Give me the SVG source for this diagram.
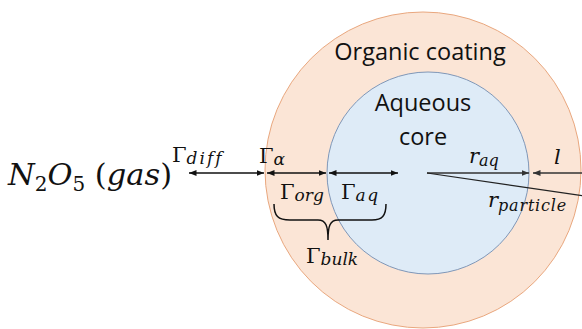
<svg xmlns="http://www.w3.org/2000/svg" width="582" height="329" viewBox="0 0 582 329">
<style>
.lbl{font-family:"Open Sans","Noto Sans",sans-serif;font-size:23.5px;fill:#111;}
.m{font-family:"DejaVu Serif","Liberation Serif",serif;fill:#111;}
.it{font-style:italic;}
.g{font-size:21px;}
.s{font-size:17px;font-style:italic;}
.ln{stroke:#111;stroke-width:1.5;fill:none;}
</style>
<defs>
<marker id="ah" viewBox="0 0 10 10" refX="10" refY="5" markerWidth="5" markerHeight="5" orient="auto-start-reverse" markerUnits="strokeWidth">
<path d="M0,1 L10,5 L0,9 z" fill="#111"/>
</marker>
<marker id="ahg" viewBox="0 0 10 10" refX="10" refY="5" markerWidth="5" markerHeight="5" orient="auto-start-reverse" markerUnits="strokeWidth">
<path d="M0,1 L10,5 L0,9 z" fill="#333"/>
</marker>
</defs>
<rect width="582" height="329" fill="#fff"/>
<g id="organic-coating">
<circle cx="423" cy="170" r="158" fill="#FBE5D6" stroke="#E9A77E" stroke-width="1"/>
<text class="lbl" x="420" y="60" text-anchor="middle">Organic coating</text>
</g>
<g id="aqueous-core">
<circle cx="428" cy="173" r="101" fill="#DEEBF7" stroke="#7F97B8" stroke-width="1"/>
<text class="lbl" x="423" y="111" text-anchor="middle">Aqueous</text>
<text class="lbl" x="423" y="145" text-anchor="middle">core</text>
</g>
<g id="gas">
<text class="m" y="185" font-size="30.5"><tspan x="8" class="it">N</tspan><tspan font-size="20" dy="6">2</tspan><tspan class="it" dy="-6">O</tspan><tspan font-size="20" dy="6">5</tspan><tspan dy="-6"> (</tspan><tspan class="it">gas</tspan><tspan>)</tspan></text>
</g>
<g id="connectors">
<line class="ln" x1="189" y1="173" x2="264" y2="173" marker-start="url(#ah)" marker-end="url(#ah)"/>
<line class="ln" x1="267" y1="173" x2="326" y2="173" marker-start="url(#ah)" marker-end="url(#ah)"/>
<line class="ln" x1="329" y1="173" x2="398" y2="173" marker-start="url(#ah)" marker-end="url(#ah)"/>
<line x1="427" y1="173" x2="529" y2="173" stroke="#333" stroke-width="1.5" marker-end="url(#ahg)"/>
<line x1="533" y1="173" x2="582" y2="173" stroke="#333" stroke-width="1.5" marker-start="url(#ahg)"/>
<line x1="427" y1="173" x2="584" y2="196" stroke="#222" stroke-width="1.2"/>
<path class="ln" d="M274,204 C274,216 278,220 290,220 L318,220 C326,220 328,226 328,240 C328,226 330,220 338,220 L372,220 C382,220 386,216 386,204" stroke-width="2"/>
</g>
<g id="labels">
<text class="m g" x="172" y="162">Γ<tspan class="s" dy="2" letter-spacing="2">diff</tspan></text>
<text class="m g" x="259" y="163">Γ<tspan class="s" dy="2">α</tspan></text>
<text class="m g" x="280" y="199">Γ<tspan class="s" dy="2">org</tspan></text>
<text class="m g" x="341" y="199">Γ<tspan class="s" dy="2" letter-spacing="1.5">aq</tspan></text>
<text class="m g" x="306" y="263">Γ<tspan class="s" dy="2">bulk</tspan></text>
<text class="m it" x="469" y="163" font-size="21">r<tspan font-size="16" dy="3">aq</tspan></text>
<text class="m it" x="554" y="164" font-size="21">l</text>
<text class="m it" x="488" y="207" font-size="21">r<tspan font-size="16" dy="4" letter-spacing="0.8">particle</tspan></text>
</g>
</svg>
